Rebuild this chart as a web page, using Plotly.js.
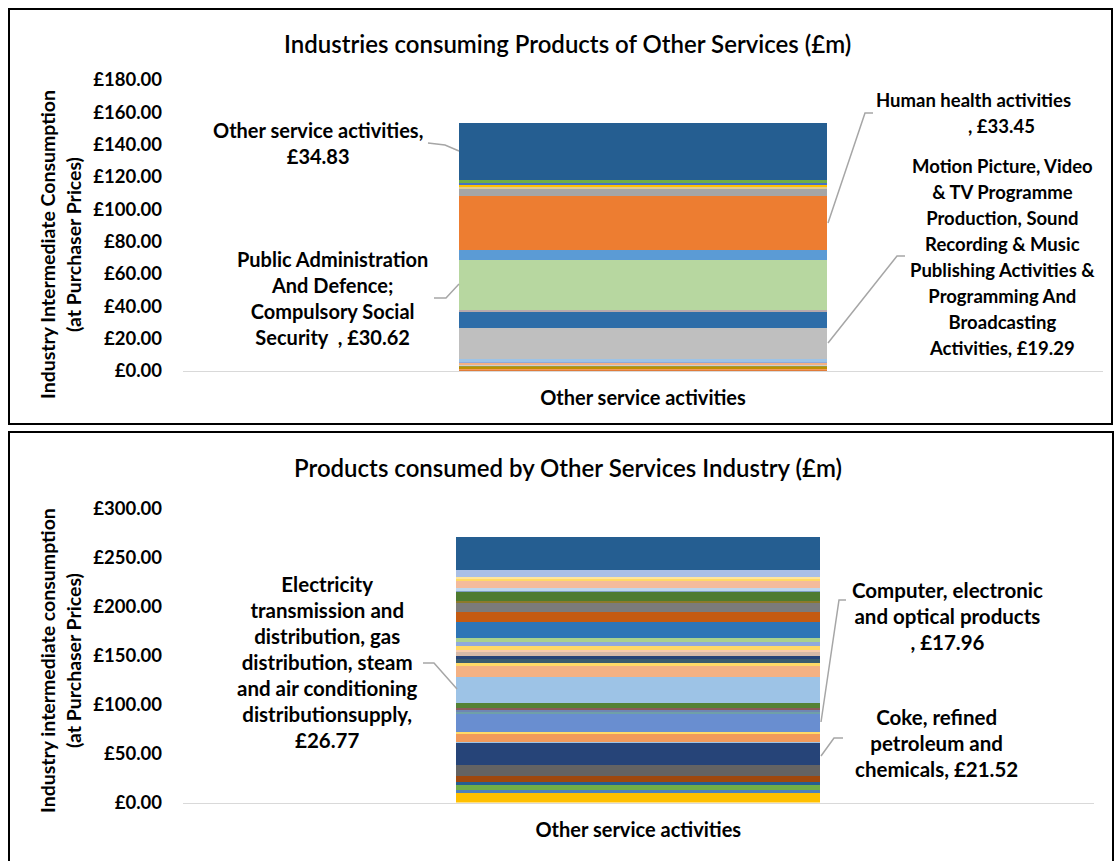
<!DOCTYPE html>
<html>
<head>
<meta charset="utf-8">
<script src="https://cdn.plot.ly/plotly-3.0.1.min.js"></script>
<style>html,body{margin:0;padding:0;background:#fff;}#chart{width:1115px;height:861px;}</style>
</head>
<body>
<div id="chart"></div>
<script>
// ---------- DATA ----------
const category = ["Other service activities"];

// Top chart: industries consuming products of Other Services (bottom -> top of stack)
const topNames = ["", "", "", "", "", "", "", "",
  "Motion Picture, Video & TV Programme Production, Sound Recording & Music Publishing Activities & Programming And Broadcasting Activities",
  "", "",
  "Public Administration And Defence; Compulsory Social Security",
  "",
  "Human health activities",
  "", "", "", "", "",
  "Other service activities"];
const topValues = [0.5, 1.0, 0.8, 0.6, 1.0, 1.0, 0.8, 1.7, 19.29, 10.1, 1.2, 30.62, 6.0, 33.45, 4.6, 1.2, 1.2, 1.4, 1.9, 34.83];

// Bottom chart: products consumed by Other Services industry (bottom -> top of stack)
const botNames = ["", "", "", "", "", "",
  "Coke, refined petroleum and chemicals",
  "", "", "",
  "Computer, electronic and optical products",
  "", "", "", "",
  "Electricity transmission and distribution, gas distribution, steam and air conditioning distributionsupply",
  "", "", "", "", "", "", "", "", "", "", "", "", "", "", "", "", "", "", "", ""];
const botValues = [9.9, 2.4, 5.1, 3.4, 6.8, 11.2, 21.52, 2.0, 8.2, 2.0, 17.96, 2.5, 2.0, 2.0, 4.8, 26.77,
  10.8, 3.4, 4.1, 3.4, 3.8, 1.6, 4.8, 4.1, 3.8, 16.0, 10.2, 9.2, 2.0, 9.2, 1.7, 2.8, 6.8, 2.4, 1.6, 7.5, 34.1];

const topTicks = [0, 20, 40, 60, 80, 100, 120, 140, 160, 180];
const botTicks = [0, 50, 100, 150, 200, 250, 300];

// ---------- STYLE ----------
const topColors = ["#E07B39", "#F19A5B", "#BF9000", "#9C9A3B", "#D0CECE", "#F4B183", "#8FAADC", "#9DC3E6",
  "#BFBFBF", "#2E6DA8", "#B8A9AC", "#B7D7A0", "#5B9BD5", "#ED7D31", "#A5A5A5", "#E0CB8F", "#FFC000",
  "#4472C4", "#70AD47", "#255E91"];
const botColors = ["#FFC000", "#4F81BD", "#70AD47", "#255E91", "#9E480E", "#636363", "#264478", "#9DC3E6",
  "#F19A5B", "#FFD966", "#698ED0", "#6FA0A8", "#6F86B4", "#8A5A5A", "#548235", "#9DC3E6",
  "#F4B183", "#FFD966", "#3B5C6E", "#264478", "#D6B9A8", "#F8CBAD", "#FFD966", "#8FAADC", "#A9D18E",
  "#2E75B6", "#C55A11", "#7B7B7B", "#8C7A2B", "#4E7B2F", "#7F9FC0", "#BDD7EE", "#F4BB9C", "#FFD966",
  "#FFE699", "#A9BFE6", "#255E91"];

const W = 1115, H = 861;
const px = v => v / W;
const py = v => 1 - v / H;
const FONT = "Lato, 'Open Sans', sans-serif";
const money = v => "£" + v.toFixed(2);

const traces = [];
topValues.forEach((v, i) => traces.push({
  type: "bar", x: category, y: [v], name: topNames[i] || ("Industry " + (i + 1)),
  marker: {color: topColors[i], line: {width: 0}}, xaxis: "x", yaxis: "y", hoverinfo: "y+name"
}));
botValues.forEach((v, i) => traces.push({
  type: "bar", x: category, y: [v], name: botNames[i] || ("Product " + (i + 1)),
  marker: {color: botColors[i], line: {width: 0}}, xaxis: "x2", yaxis: "y2", hoverinfo: "y+name"
}));

function block(lines, size) {
  return lines.map(l => '<span style="font-size:' + size + 'px">' + l + '</span>').join("<br>");
}
function label(text, x, y, extra) {
  return Object.assign({
    xref: "paper", yref: "paper", x: px(x), y: py(y), xanchor: "center", yanchor: "middle",
    showarrow: false, align: "center", text: text,
    font: {family: FONT, size: 20, color: "#000000", weight: 700}
  }, extra || {});
}
function path(points) {
  return {
    type: "path", xref: "paper", yref: "paper",
    path: points.map((p, i) => (i ? "L" : "M") + px(p[0]) + "," + py(p[1])).join(" "),
    line: {color: "#A6A6A6", width: 1.5}
  };
}

const annotations = [
  // titles
  label("Industries consuming Products of Other Services (£m)", 567, 43, {font: {family: FONT, size: 24, color: "#000", weight: 600}}),
  label("Products consumed by Other Services Industry (£m)", 568, 467, {font: {family: FONT, size: 24, color: "#000", weight: 600}}),
  // y axis titles
  label(block(["Industry Intermediate Consumption", "(at Purchaser Prices)"], 19.5), 60, 245, {textangle: -90}),
  label(block(["Industry intermediate consumption", "(at Purchaser Prices)"], 19.5), 60, 661, {textangle: -90}),
  // top data labels
  label(block(["Other service activities,", money(topValues[19])], 20), 318, 143.5),
  label(block(["Public Administration", "And Defence;", "Compulsory Social", "Security  , " + money(topValues[11])], 20), 332, 298.5),
  label(block(["Human health activities"], 18.5), 973, 100),
  label(block([", " + money(topValues[13])], 18.5), 1001, 126),
  label(block(["Motion Picture, Video", "&amp; TV Programme", "Production, Sound", "Recording &amp; Music",
    "Publishing Activities &amp;", "Programming And", "Broadcasting", "Activities, " + money(topValues[8])], 18.5), 1002, 257),
  // bottom data labels
  label(block(["Electricity", "transmission and", "distribution, gas", "distribution, steam", "and air conditioning",
    "distributionsupply,", money(botValues[15])], 20.5), 327, 662),
  label(block(["Computer, electronic", "and optical products", ", " + money(botValues[10])], 20.5), 947, 616),
  label(block(["Coke, refined", "petroleum and", "chemicals, " + money(botValues[6])], 20.5), 936, 743)
];

const shapes = [
  {type: "rect", xref: "paper", yref: "paper", x0: px(9), x1: px(1112), y0: py(9), y1: py(424), line: {color: "#000", width: 2}},
  {type: "rect", xref: "paper", yref: "paper", x0: px(9), x1: px(1113), y0: py(432), y1: py(875), line: {color: "#000", width: 2}},
  path([[428, 143], [445, 145], [459, 151]]),
  path([[434, 298], [446, 298], [459, 284]]),
  path([[873, 113], [865, 113], [828, 223]]),
  path([[905, 256], [897, 256], [828, 343]]),
  path([[423, 663], [434, 663], [457, 689]]),
  path([[846, 600], [839, 600], [821, 722]]),
  path([[843, 738], [834, 738], [821, 756]])
];

const yaxisBase = {
  showgrid: false, zeroline: false, showline: false, ticks: "", ticklabelstandoff: 20,
  tickfont: {family: FONT, size: 18.5, color: "#000", weight: 700}, fixedrange: true
};
const xaxisBase = {
  showgrid: false, zeroline: false, showline: true, linecolor: "#D9D9D9", linewidth: 1,
  ticks: "", ticklabelstandoff: 9, tickfont: {family: FONT, size: 20, color: "#000", weight: 700}, fixedrange: true
};

const layout = {
  width: W, height: H, margin: {l: 0, r: 0, t: 0, b: 0},
  paper_bgcolor: "#fff", plot_bgcolor: "#fff",
  barmode: "stack", bargap: 0.6, showlegend: false,
  xaxis: Object.assign({}, xaxisBase, {domain: [px(183), px(1103)], anchor: "y"}),
  yaxis: Object.assign({}, yaxisBase, {domain: [py(371), py(80)], range: [0, 180],
    tickmode: "array", tickvals: topTicks, ticktext: topTicks.map(money), anchor: "x"}),
  xaxis2: Object.assign({}, xaxisBase, {domain: [px(183), px(1093.6)], anchor: "y2"}),
  yaxis2: Object.assign({}, yaxisBase, {domain: [py(802.5), py(509)], range: [0, 300],
    tickmode: "array", tickvals: botTicks, ticktext: botTicks.map(money), anchor: "x2"}),
  annotations: annotations, shapes: shapes
};

Plotly.newPlot("chart", traces, layout, {displayModeBar: false, staticPlot: true});
</script>
</body>
</html>
